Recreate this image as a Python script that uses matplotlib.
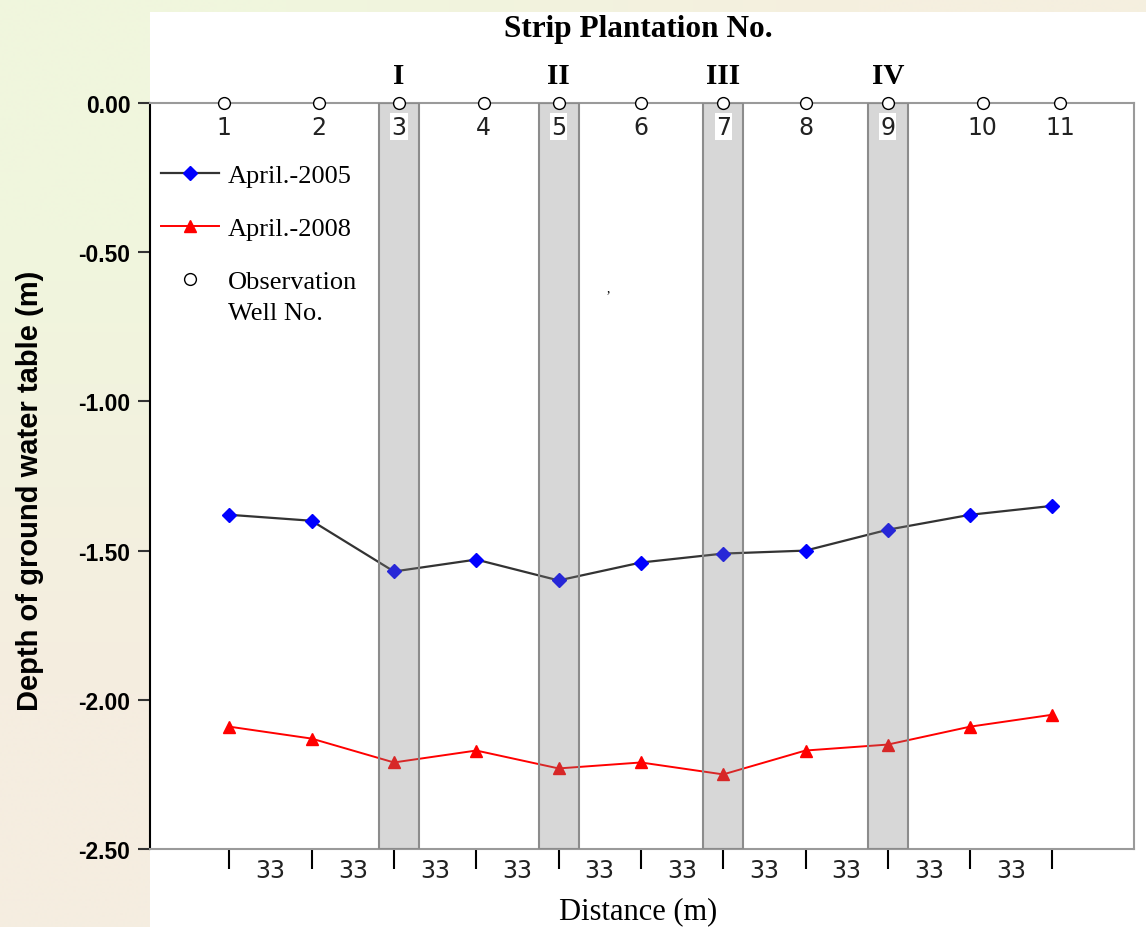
import numpy as np
import matplotlib
matplotlib.use("Agg")
import matplotlib.pyplot as plt
from matplotlib.lines import Line2D
from matplotlib.patches import Rectangle
from matplotlib.transforms import IdentityTransform

# distance along the transect (m), one observation well every 33 m
distance = [0, 33, 66, 99, 132, 165, 198, 231, 264, 297, 330]
wells = [1, 2, 3, 4, 5, 6, 7, 8, 9, 10, 11]
# well positions as drawn along the ground line
well_x = [-2, 36, 68, 102, 132, 165, 198, 231, 264, 302, 333]

# depth of ground water table (m)
depth_2005 = [-1.38, -1.40, -1.57, -1.53, -1.60, -1.54, -1.51, -1.50, -1.43, -1.38, -1.35]
depth_2008 = [-2.09, -2.13, -2.21, -2.17, -2.23, -2.21, -2.25, -2.17, -2.15, -2.09, -2.05]

strip_names = ["I", "II", "III", "IV"]
strip_wells = [3, 5, 7, 9]
strip_width = 16

yticks = [0.0, -0.5, -1.0, -1.5, -2.0, -2.5]

W, H = 1146, 928
SERIF = "Liberation Serif"
SANS = "Liberation Sans"

fig = plt.figure(figsize=(W / 100, H / 100), dpi=100)

# soft gradient page background with a white panel
bg = fig.add_axes([0, 0, 1, 1], zorder=-10)
grad = np.array([[[240, 246, 221], [245, 239, 223]],
                 [[245, 237, 224], [245, 236, 224]]]) / 255.0
bg.imshow(grad, extent=(0, 1, 0, 1), aspect="auto", interpolation="bilinear")
bg.add_patch(Rectangle((150 / W, 0), 1, 1 - 13 / H, facecolor="white",
                       edgecolor="none", transform=bg.transAxes))
bg.set_xlim(0, 1)
bg.set_ylim(0, 1)
bg.axis("off")

ax = fig.add_axes([150 / W, (H - 850) / H, (1134 - 150) / W, (850 - 104) / H])
ax.set_facecolor("none")

l05, = ax.plot(distance, depth_2005, color="#333333", lw=1.6, marker="D", ms=6.9,
               mfc="blue", mec="blue", zorder=3, label="April.-2005")
l08, = ax.plot(distance, depth_2008, color="red", lw=1.4, marker="^", ms=9.3,
               mfc="red", mec="red", zorder=3, label="April.-2008")

# strip plantations (translucent, drawn over the data)
for name, w in zip(strip_names, strip_wells):
    cx = well_x[w - 1]
    ax.axvspan(cx - strip_width / 2, cx + strip_width / 2,
               facecolor=(0.5, 0.5, 0.5, 0.31), edgecolor="#8c8c8c", lw=1.5, zorder=4)
    ax.annotate(name, (cx, 0), xytext=(0, 19.5), textcoords="offset points",
                ha="center", va="center", fontsize=21, fontweight="bold",
                family=SERIF, annotation_clip=False)

# observation wells on the ground line
ax.plot(well_x, [0] * len(wells), ls="none", marker="o", ms=8.5, mfc="white",
        mec="black", mew=1, clip_on=False, zorder=7)
for x, n in zip(well_x, wells):
    ax.annotate(str(n), (x, 0), xytext=(0, -17), textcoords="offset points",
                ha="center", va="center", fontsize=17, family="DejaVu Sans",
                color="#222222", zorder=7,
                bbox=dict(boxstyle="square,pad=0.05", fc="white", ec="none"))

ax.set_xlim(-31.8, 362.7)
ax.set_ylim(-2.5, 0)

# distance ticks with the spacing written between them
mids = [(a + b) / 2 for a, b in zip(distance[:-1], distance[1:])]
gaps = [str(b - a) for a, b in zip(distance[:-1], distance[1:])]
ax.set_xticks(distance)
ax.set_xticklabels([])
ax.set_xticks(mids, minor=True)
ax.set_xticklabels(gaps, minor=True, fontsize=17, family="DejaVu Sans", color="#222222")
ax.tick_params(axis="x", which="major", direction="out", length=14.5, width=1.5,
               color="black")
ax.tick_params(axis="x", which="minor", length=0, pad=6.5)

ax.set_yticks(yticks)
ax.set_yticklabels([f"{v:.2f}" for v in yticks], fontsize=16.5, fontweight="bold",
                   family=SANS)
ax.tick_params(axis="y", direction="out", length=8.6, width=1.5, color="#333333", pad=5.5)

ax.spines["left"].set_color("black")
ax.spines["left"].set_linewidth(1.5)
for side in ["top", "right", "bottom"]:
    ax.spines[side].set_color("#9a9a9a")
    ax.spines[side].set_linewidth(1.5)

ax.set_xlabel("Distance (m)", fontsize=22, family=SERIF)
ax.xaxis.set_label_coords(0.496, -0.063)
ax.set_ylabel("Depth of ground water table (m)", fontsize=21, fontweight="bold",
              family=SANS, va="center")
ax.yaxis.set_label_coords(-0.122, 0.481)

fig.text(638 / W, 1 - 30 / H, "Strip Plantation No.", ha="center", va="center",
         fontsize=22.5, fontweight="bold", family=SERIF)

# stray mark present in the original figure
ax.text(152, -0.62, ",", fontsize=10, family=SERIF, ha="center", va="center")

well_handle = Line2D([], [], ls="none", marker="o", ms=8.5, mfc="white", mec="black", mew=1)
leg = ax.legend([l05, l08, well_handle], ["April.-2005", "April.-2008", "Observation"],
                loc="upper left", bbox_to_anchor=(0.011, 0.919), borderaxespad=0,
                borderpad=0, frameon=False, numpoints=1, handlelength=2.2,
                handletextpad=0.33, labelspacing=1.12,
                prop={"family": SERIF, "size": 19})
leg.set_zorder(8)

fig.canvas.draw()
bb = leg.get_texts()[2].get_window_extent()
fig.text(bb.x0, bb.y0 - 31, "Well No.", transform=IdentityTransform(),
         ha="left", va="bottom", fontsize=19, family=SERIF)

fig.savefig("out.png", dpi=100)
